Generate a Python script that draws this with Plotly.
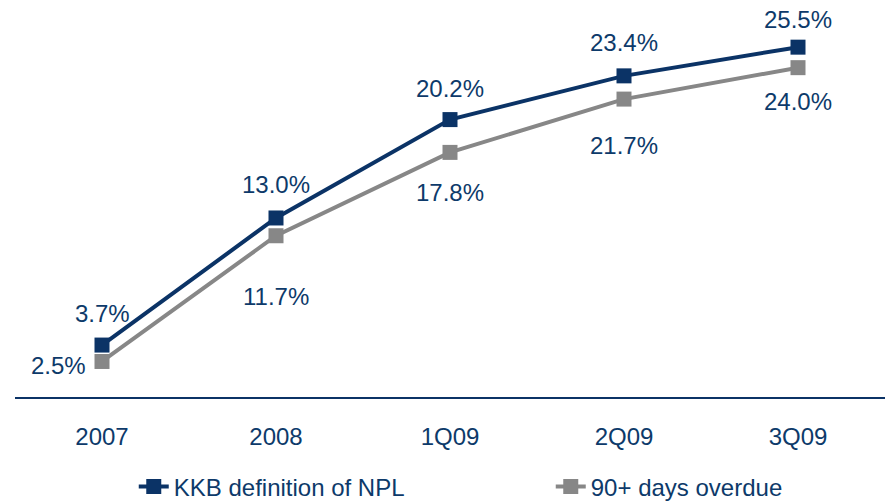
import plotly.graph_objects as go

# Reporting periods and NPL ratios (%)
periods = ["2007", "2008", "1Q09", "2Q09", "3Q09"]
kkb_npl = [3.7, 13.0, 20.2, 23.4, 25.5]
overdue_90 = [2.5, 11.7, 17.8, 21.7, 24.0]

NAVY = "#0b3366"
GREY = "#878787"
TEXT = "#0d3a6a"
FONT = "Liberation Sans, Arial, sans-serif"

# label offsets (pixels) relative to each point
kkb_shift = [32, 33, 31, 33, 28]
ovd_shift = [-4, -61, -40, -46, -34]
ovd_xshift = [-44, 0, 0, 0, 0]

fig = go.Figure()
fig.add_trace(go.Scatter(
    x=periods, y=kkb_npl, name="KKB definition of NPL", mode="lines+markers",
    line=dict(color=NAVY, width=4), marker=dict(symbol="square", size=15, color=NAVY),
))
fig.add_trace(go.Scatter(
    x=periods, y=overdue_90, name="90+ days overdue", mode="lines+markers",
    line=dict(color=GREY, width=4), marker=dict(symbol="square", size=15, color=GREY),
))

# value labels; x given as category index so labels follow the category axis
for i, (v, s) in enumerate(zip(kkb_npl, kkb_shift)):
    fig.add_annotation(x=i, y=v, text=f"{v:.1f}%", showarrow=False, yshift=s,
                       font=dict(family=FONT, size=24, color=TEXT))
for i, (v, s, xs) in enumerate(zip(overdue_90, ovd_shift, ovd_xshift)):
    fig.add_annotation(x=i, y=v, text=f"{v:.1f}%", showarrow=False, yshift=s, xshift=xs,
                       font=dict(family=FONT, size=24, color=TEXT))

fig.update_layout(
    width=886, height=502,
    margin=dict(l=15, r=1, t=13, b=105, autoexpand=False),
    paper_bgcolor="white", plot_bgcolor="white",
    font=dict(family=FONT, size=24, color=TEXT),
    showlegend=True,
    legend=dict(orientation="h", x=0.1365, xanchor="left",
                yref="container", y=0.03, yanchor="middle",
                font=dict(family=FONT, size=24, color=TEXT),
                entrywidth=372, entrywidthmode="pixels", itemclick=False),
    xaxis=dict(type="category", range=[-0.5, 4.5], showline=True, linecolor=NAVY,
               linewidth=2, showgrid=False, zeroline=False, ticks="", ticklabelstandoff=17,
               automargin=False, tickfont=dict(family=FONT, size=24, color=TEXT)),
    yaxis=dict(visible=False, range=[-0.1, 28]),
)

fig.write_html("out.html")
